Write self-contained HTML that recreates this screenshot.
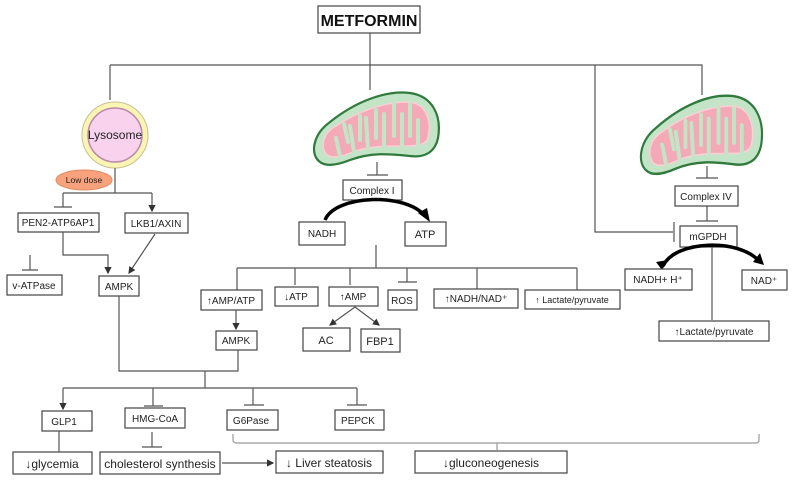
<!DOCTYPE html>
<html><head><meta charset="utf-8"><style>
body{margin:0;background:#fff}
svg{display:block}
text{font-family:"Liberation Sans",sans-serif;font-size:10px;fill:#222}
.b{fill:#fff;stroke:#444;stroke-width:1.2}
.l{stroke:#555;stroke-width:1.2;fill:none}
</style></head><body>
<svg width="795" height="480" viewBox="0 0 795 480">
<defs>
<marker id="a" markerWidth="6" markerHeight="6" refX="5" refY="3" orient="auto"><path d="M0,0L6,3L0,6z" fill="#333"/></marker>
<g id="mito">
<path d="M10,72 C0,65 2,45 20,32 C45,12 75,0 100,3 C122,6 132,25 128,48 C125,62 115,68 100,66 C80,64 62,62 40,70 C25,76 15,76 10,72 Z" fill="#c3e4c6" stroke="#2f7a3c" stroke-width="2.2"/>
<path d="M16,64 C10,55 14,42 26,36 C46,22 74,12 98,12 C116,13 122,30 118,48 C115,56 105,56 95,56 C75,56 55,56 38,64 C28,68 20,68 16,64 Z" fill="#f4a9b6" stroke="#f8d0d6" stroke-width="1.5"/>
<g stroke="#c3e4c6" stroke-width="4" stroke-linecap="round" fill="none">
<path d="M30,66 L26,48"/><path d="M44,62 L40,36"/><path d="M58,60 L56,28"/><path d="M74,58 L74,24"/><path d="M92,57 L92,24"/><path d="M108,57 L108,30"/>
<path d="M34,34 L38,52"/><path d="M50,26 L50,50"/><path d="M66,20 L66,48"/><path d="M84,14 L84,46"/><path d="M100,14 L100,46"/>
</g>
</g>
</defs>

<rect class="b" x="318" y="6" width="102" height="27"/>
<text x="369" y="26" text-anchor="middle" style="font-size:16px;font-weight:bold;fill:#111">METFORMIN</text>
<path class="l" d="M370,33V90 M110,65H702V95 M110,65V100 M595,65V232H673 M674,222V242"/>

<circle cx="115" cy="135" r="33" fill="#fbf5b3" stroke="#c8c090" stroke-width="1"/>
<circle cx="115" cy="135" r="27" fill="#f9d3ee" stroke="#b98aaa" stroke-width="1.5"/>
<text x="115" y="139" text-anchor="middle" style="font-size:12px">Lysosome</text>
<path class="l" d="M115,168V193 M63,193H152 M63,193V207 M54,207H72"/>
<path class="l" d="M152,193V211" marker-end="url(#a)"/>
<ellipse cx="84" cy="180" rx="28" ry="10" fill="#f7a27c" stroke="#e58a60"/>
<text x="84" y="183" text-anchor="middle" style="font-size:8.5px">Low dose</text>
<rect class="b" x="18" y="213" width="81" height="19"/><text x="58" y="226" text-anchor="middle">PEN2-ATP6AP1</text>
<rect class="b" x="125" y="213" width="63" height="20"/><text x="156" y="227" text-anchor="middle">LKB1/AXIN</text>
<path class="l" d="M63,232V255H108V273" marker-end="url(#a)"/>
<path class="l" d="M30,255V270 M22,270H38"/>
<path class="l" d="M155,234L129,273" marker-end="url(#a)"/>
<rect class="b" x="7" y="275" width="55" height="20"/><text x="34" y="289" text-anchor="middle">v-ATPase</text>
<rect class="b" x="99" y="276" width="40" height="20"/><text x="119" y="290" text-anchor="middle">AMPK</text>

<use href="#mito" transform="translate(310,90)"/>
<path class="l" d="M377,162V175 M367,175H388"/>
<rect class="b" x="343" y="180" width="59" height="20"/><text x="372" y="194" text-anchor="middle">Complex I</text>
<path d="M325,220 C335,195 405,192 425,216" fill="none" stroke="#000" stroke-width="3.5"/>
<path d="M418,213L430,222L427,208z" fill="#000"/>
<rect class="b" x="299" y="222" width="46" height="23"/><text x="322" y="237" text-anchor="middle">NADH</text>
<rect class="b" x="405" y="222" width="41" height="24"/><text x="425" y="238" text-anchor="middle" style="font-size:11px">ATP</text>
<path class="l" d="M376,245V268 M237,268H577 M237,268V290 M295,268V285 M350,268V285 M407,268V282 M398,282H417 M477,268V289 M577,268V290"/>
<rect class="b" x="201" y="290" width="61" height="20"/><text x="231" y="304" text-anchor="middle">↑AMP/ATP</text>
<rect class="b" x="275" y="287" width="43" height="19"/><text x="296" y="300" text-anchor="middle">↓ATP</text>
<rect class="b" x="329" y="287" width="49" height="19"/><text x="353" y="300" text-anchor="middle">↑AMP</text>
<rect class="b" x="388" y="290" width="29" height="20"/><text x="402" y="304" text-anchor="middle">ROS</text>
<rect class="b" x="434" y="289" width="84" height="19"/><text x="476" y="302" text-anchor="middle">↑NADH/NAD⁺</text>
<rect class="b" x="525" y="290" width="95" height="19"/><text x="572" y="303" text-anchor="middle" style="font-size:9px">↑ Lactate/pyruvate</text>
<path class="l" d="M355,307L379,325" marker-end="url(#a)"/>
<path class="l" d="M355,307L330,325" marker-end="url(#a)"/>
<rect class="b" x="303" y="328" width="47" height="23"/><text x="326" y="344" text-anchor="middle" style="font-size:11px">AC</text>
<rect class="b" x="361" y="329" width="39" height="23"/><text x="380" y="345" text-anchor="middle" style="font-size:11px">FBP1</text>
<path class="l" d="M236,310V329" marker-end="url(#a)"/>
<rect class="b" x="216" y="331" width="41" height="19"/><text x="236" y="344" text-anchor="middle">AMPK</text>

<use href="#mito" transform="translate(637,93) scale(0.97,1.08)"/>
<path class="l" d="M707,166V178 M696,178H718 M707,206V221 M696,221H718"/>
<rect class="b" x="675" y="186" width="63" height="20"/><text x="706" y="200" text-anchor="middle">Complex IV</text>
<rect class="b" x="680" y="226" width="57" height="21"/><text x="708" y="240" text-anchor="middle">mGPDH</text>
<path d="M663,266 C675,240 740,238 760,262" fill="none" stroke="#000" stroke-width="3.5"/>
<path d="M656,262L662,270L668,260z" fill="#000"/>
<path d="M753,262L764,265L760,253z" fill="#000"/>
<path class="l" d="M712,247V320"/>
<rect class="b" x="625" y="269" width="67" height="21"/><text x="658" y="283" text-anchor="middle">NADH+ H⁺</text>
<rect class="b" x="742" y="270" width="45" height="20"/><text x="764" y="284" text-anchor="middle">NAD⁺</text>
<rect class="b" x="659" y="321" width="110" height="20"/><text x="714" y="335" text-anchor="middle">↑Lactate/pyruvate</text>

<path class="l" d="M119,296V371H238V350 M205,371V388 M63,388H357"/>
<path class="l" d="M63,388V409" marker-end="url(#a)"/>
<path class="l" d="M153,388V406 M144,406H163 M253,388V405 M244,405H264 M357,388V405 M347,405H367"/>
<rect class="b" x="42" y="411" width="50" height="20"/><text x="64" y="425" text-anchor="middle">GLP1</text>
<rect class="b" x="125" y="408" width="60" height="20"/><text x="155" y="422" text-anchor="middle">HMG-CoA</text>
<rect class="b" x="227" y="410" width="51" height="20"/><text x="251" y="424" text-anchor="middle">G6Pase</text>
<rect class="b" x="335" y="410" width="49" height="20"/><text x="358" y="424" text-anchor="middle">PEPCK</text>
<path class="l" d="M59,431V452 M152,432V447 M142,447H162"/>
<path class="l" d="M222,463H273" marker-end="url(#a)"/>
<path d="M233,434V440Q233,443 237,443H756Q759,443 759,440V434 M497,443V450" fill="none" stroke="#999" stroke-width="1.2"/>
<rect class="b" x="13" y="452" width="79" height="22"/><text x="52" y="468" text-anchor="middle" style="font-size:12px">↓glycemia</text>
<rect class="b" x="100" y="452" width="120" height="22"/><text x="160" y="468" text-anchor="middle" style="font-size:12px">cholesterol synthesis</text>
<rect class="b" x="276" y="451" width="107" height="22"/><text x="329" y="467" text-anchor="middle" style="font-size:12px">↓ Liver steatosis</text>
<rect class="b" x="415" y="451" width="152" height="22"/><text x="491" y="467" text-anchor="middle" style="font-size:12px">↓gluconeogenesis</text>
</svg>
</body></html>
